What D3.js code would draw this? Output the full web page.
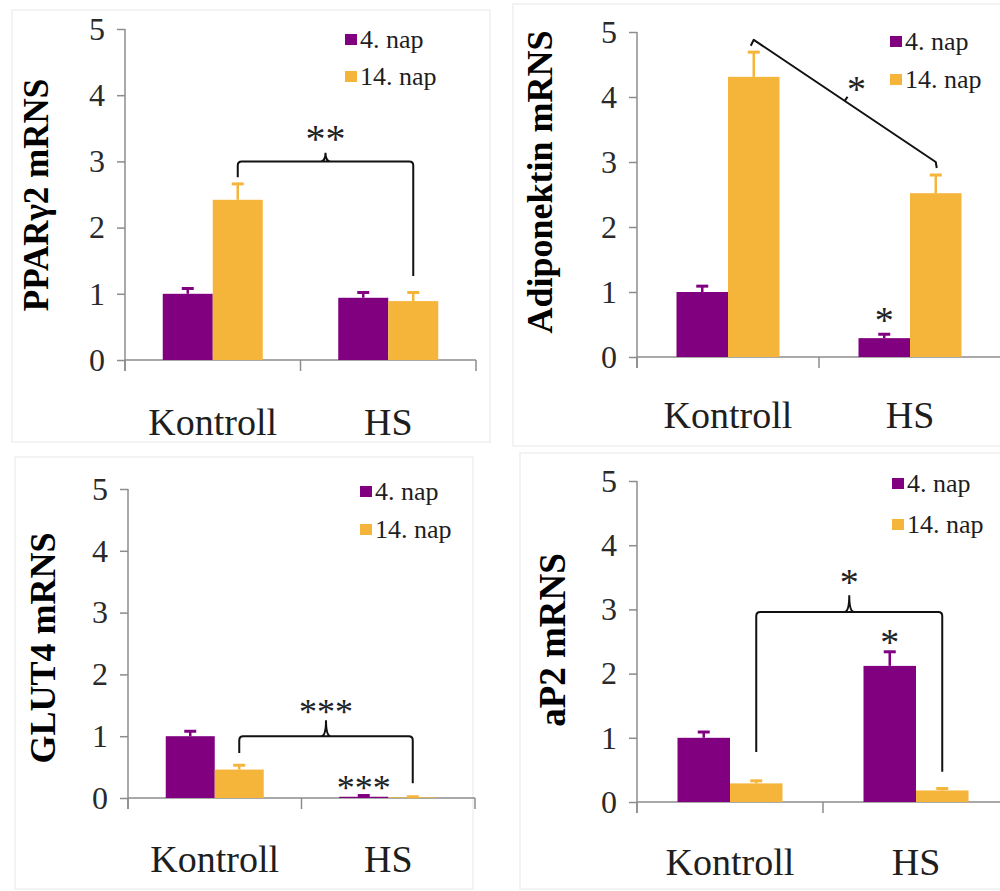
<!DOCTYPE html>
<html>
<head>
<meta charset="utf-8">
<script src="https://cdn.jsdelivr.net/npm/d3@7"></script>
<style>
  body { margin: 0; background: #fff; }
  svg text { font-family: "Liberation Serif", "Times New Roman", serif; }
</style>
</head>
<body>
<div id="chart"></div>
<script>
// shared categories / series
var categories = ["Kontroll", "HS"];
var series = ["4. nap", "14. nap"];
var yTicks = [0, 1, 2, 3, 4, 5];
var colors = ["#800080", "#f5b53a"];

// PPARγ2
var pparNap4 = [1.00, 0.94];
var pparNap14 = [2.42, 0.89];
var pparErr4 = [0.08, 0.08];
var pparErr14 = [0.24, 0.13];

// Adiponektin
var adipoNap4 = [1.00, 0.29];
var adipoNap14 = [4.31, 2.52];
var adipoErr4 = [0.09, 0.06];
var adipoErr14 = [0.38, 0.28];

// GLUT4
var glutNap4 = [1.00, 0.02];
var glutNap14 = [0.46, 0.01];
var glutErr4 = [0.08, 0.02];
var glutErr14 = [0.07, 0.01];

// aP2
var ap2Nap4 = [1.00, 2.12];
var ap2Nap14 = [0.29, 0.18];
var ap2Err4 = [0.09, 0.22];
var ap2Err14 = [0.04, 0.03];

var serif = "'Liberation Serif', 'Times New Roman', serif";

var svg = d3.select("#chart").append("svg")
  .attr("width", 1000)
  .attr("height", 891)
  .attr("font-family", serif);

var drawPanel = function(cfg) {
  var g = svg.append("g");

  // faint frame of the panel
  g.append("rect")
    .attr("x", cfg.frame[0]).attr("y", cfg.frame[1])
    .attr("width", cfg.frame[2]).attr("height", cfg.frame[3])
    .style("fill", "none").style("stroke", "#efefef").style("stroke-width", 1.5);

  var x = d3.scaleBand().domain(categories).range([cfg.left, cfg.right]);
  var xs = d3.scaleBand().domain(series)
    .range([x.bandwidth() / 2 - cfg.barW, x.bandwidth() / 2 + cfg.barW]);
  var y = d3.scaleLinear().domain([0, 5]).range([cfg.bottom, cfg.top]);
  var cx = function(c, s) { return x(c) + xs(s) + xs.bandwidth() / 2; };

  // y axis
  var ya = g.append("g")
    .attr("transform", "translate(" + cfg.left + ",0)")
    .call(d3.axisLeft(y).tickValues(yTicks).tickSize(8).tickSizeOuter(0)
      .tickPadding(12).tickFormat(d3.format("d")));
  ya.attr("font-family", serif).attr("font-size", 32);
  ya.select(".domain").remove();
  ya.selectAll("line").style("stroke", "#8c8c8c").style("stroke-width", 1.5);
  ya.selectAll("text").style("font-size", "32px").style("fill", "#2a2a2a")
    .style("font-family", serif);

  // axis lines
  var ax = g.append("g");
  ax.append("line")
    .attr("x1", cfg.left).attr("x2", cfg.left)
    .attr("y1", y(5)).attr("y2", y(0) + 11)
    .style("stroke", "#8c8c8c").style("stroke-width", 1.5);
  ax.append("line")
    .attr("x1", cfg.left).attr("x2", cfg.right)
    .attr("y1", y(0)).attr("y2", y(0))
    .style("stroke", "#8c8c8c").style("stroke-width", 1.5);
  var bounds = [cfg.left].concat(categories.map(function(c) { return x(c) + x.bandwidth(); }));
  ax.selectAll(".xt").data(bounds).enter().append("line")
    .attr("x1", function(d) { return d; }).attr("x2", function(d) { return d; })
    .attr("y1", y(0)).attr("y2", y(0) + 11)
    .style("stroke", "#8c8c8c").style("stroke-width", 1.5);

  // category labels
  g.selectAll(".cat").data(categories).enter().append("text")
    .attr("x", function(d) { return x(d) + x.bandwidth() / 2; })
    .attr("y", cfg.labelY)
    .attr("text-anchor", "middle")
    .style("font-size", "38px").style("fill", "#1e1e1e")
    .text(function(d) { return d; });

  // y title
  g.append("text")
    .attr("transform", "translate(" + cfg.titleX + "," + cfg.titleY + ") rotate(-90)")
    .attr("text-anchor", "middle")
    .style("font-size", cfg.titleSize + "px").style("font-weight", "bold")
    .text(cfg.title);

  // bars + error bars
  var rows = [];
  series.forEach(function(s, si) {
    categories.forEach(function(c, ci) {
      rows.push({ c: c, s: s, si: si, v: cfg.values[si][ci], e: cfg.errors[si][ci] });
    });
  });
  g.selectAll(".bar").data(rows).enter().append("rect")
    .attr("x", function(d) { return x(d.c) + xs(d.s); })
    .attr("y", function(d) { return y(d.v); })
    .attr("width", xs.bandwidth())
    .attr("height", function(d) { return y(0) - y(d.v); })
    .style("fill", function(d) { return colors[d.si]; });
  g.selectAll(".err").data(rows).enter().append("line")
    .attr("x1", function(d) { return cx(d.c, d.s); })
    .attr("x2", function(d) { return cx(d.c, d.s); })
    .attr("y1", function(d) { return y(d.v); })
    .attr("y2", function(d) { return y(d.v + d.e); })
    .style("stroke", function(d) { return colors[d.si]; }).style("stroke-width", 2.5);
  g.selectAll(".cap").data(rows).enter().append("line")
    .attr("x1", function(d) { return cx(d.c, d.s) - 6; })
    .attr("x2", function(d) { return cx(d.c, d.s) + 6; })
    .attr("y1", function(d) { return y(d.v + d.e); })
    .attr("y2", function(d) { return y(d.v + d.e); })
    .style("stroke", function(d) { return colors[d.si]; }).style("stroke-width", 3);

  // legend
  var lg = g.append("g");
  series.forEach(function(s, i) {
    var by = cfg.legendY + i * cfg.legendGap;
    lg.append("rect")
      .attr("x", cfg.legendX).attr("y", by - 14)
      .attr("width", 12).attr("height", 11)
      .style("fill", colors[i]);
    lg.append("text")
      .attr("x", cfg.legendX + 15).attr("y", by)
      .style("font-size", "26px").style("fill", "#1e1e1e")
      .text(s);
  });

  // brackets
  (cfg.brackets || []).forEach(function(b) {
    var x1 = cx(b.from[0], b.from[1]), x2 = cx(b.to[0], b.to[1]);
    var path = d3.path();
    if (b.diagonal) {
      var ya1 = y(b.y1), ya2 = y(b.y2);
      path.moveTo(x1 - 3, ya1 + 6);
      path.lineTo(x1, ya1);
      path.lineTo(x2, ya2);
      path.lineTo(x2 + 1, ya2 + 6);
      var mx = (x1 + x2) / 2, my = (ya1 + ya2) / 2;
      var len = Math.sqrt((x2 - x1) * (x2 - x1) + (ya2 - ya1) * (ya2 - ya1));
      var px = (ya2 - ya1) / len, py = -(x2 - x1) / len;
      path.moveTo(mx, my);
      path.lineTo(mx + px * 5, my + py * 5);
      g.append("text")
        .attr("x", mx + px * 21).attr("y", my + py * 21 + 19)
        .attr("text-anchor", "middle")
        .style("font-size", "38px").style("fill", "#222")
        .text(b.label);
    } else {
      path.moveTo(x1, y(b.legFrom));
      path.lineTo(x1, y(b.y) + 4);
      path.quadraticCurveTo(x1, y(b.y), x1 + 4, y(b.y));
      path.lineTo(x2 - 4, y(b.y));
      path.quadraticCurveTo(x2, y(b.y), x2, y(b.y) + 4);
      path.lineTo(x2, y(b.legTo));
      var m = (x1 + x2) / 2;
      path.moveTo(m - 5, y(b.y));
      path.quadraticCurveTo(m, y(b.y), m, y(b.notch));
      path.moveTo(m + 5, y(b.y));
      path.quadraticCurveTo(m, y(b.y), m, y(b.notch));
      g.append("text")
        .attr("x", m).attr("y", y(b.labelY))
        .attr("text-anchor", "middle")
        .style("font-size", b.labelSize + "px").style("fill", "#222")
        .text(b.label);
    }
    g.append("path").attr("d", path.toString())
      .style("fill", "none").style("stroke", "#111").style("stroke-width", 2)
      .style("stroke-linejoin", "round");
  });

  // stars over single bars
  (cfg.stars || []).forEach(function(st) {
    g.append("text")
      .attr("x", cx(st.at[0], st.at[1])).attr("y", y(st.y))
      .attr("text-anchor", "middle")
      .style("font-size", st.size + "px").style("fill", "#222")
      .text(st.label);
  });
};

drawPanel({
  title: "PPARγ2 mRNS", titleSize: 35, titleX: 48, titleY: 195,
  values: [pparNap4, pparNap14], errors: [pparErr4, pparErr14],
  left: 125, right: 476, top: 29, bottom: 360, barW: 50,
  labelY: 435, legendX: 345, legendY: 48, legendGap: 37,
  frame: [12, 10, 478, 432],
  brackets: [{ from: ["Kontroll", "14. nap"], to: ["HS", "14. nap"], y: 3.0,
    legFrom: 2.76, legTo: 1.27, notch: 3.13, label: "**", labelY: 3.14, labelSize: 40 }]
});

drawPanel({
  title: "Adiponektin mRNS", titleSize: 36, titleX: 552, titleY: 182,
  values: [adipoNap4, adipoNap14], errors: [adipoErr4, adipoErr14],
  left: 637, right: 1001, top: 32, bottom: 357, barW: 51.5,
  labelY: 428, legendX: 890, legendY: 50, legendGap: 38,
  frame: [513, 4, 490, 442],
  brackets: [{ diagonal: true, from: ["Kontroll", "14. nap"], to: ["HS", "14. nap"],
    y1: 4.88, y2: 3.0, label: "*" }],
  stars: [{ at: ["HS", "4. nap"], y: 0.37, label: "*", size: 38 }]
});

drawPanel({
  title: "GLUT4 mRNS", titleSize: 36, titleX: 55, titleY: 648,
  values: [glutNap4, glutNap14], errors: [glutErr4, glutErr14],
  left: 128, right: 475, top: 489, bottom: 798, barW: 49,
  labelY: 872, legendX: 360, legendY: 500, legendGap: 38,
  frame: [15, 457, 458, 432],
  brackets: [{ from: ["Kontroll", "14. nap"], to: ["HS", "14. nap"], y: 1.0,
    legFrom: 0.73, legTo: 0.24, notch: 1.26, label: "***", labelY: 1.2, labelSize: 36 }],
  stars: [{ at: ["HS", "4. nap"], y: -0.04, label: "***", size: 36 }]
});

drawPanel({
  title: "aP2 mRNS", titleSize: 37, titleX: 565, titleY: 640,
  values: [ap2Nap4, ap2Nap14], errors: [ap2Err4, ap2Err14],
  left: 637, right: 1009, top: 481, bottom: 802, barW: 52.5,
  labelY: 875, legendX: 892, legendY: 492, legendGap: 41,
  frame: [520, 453, 482, 436],
  brackets: [{ from: ["Kontroll", "14. nap"], to: ["HS", "14. nap"], y: 2.96,
    legFrom: 0.78, legTo: 0.47, notch: 3.22, label: "*", labelY: 3.23, labelSize: 38 }],
  stars: [{ at: ["HS", "4. nap"], y: 2.29, label: "*", size: 38 }]
});
</script>
</body>
</html>
